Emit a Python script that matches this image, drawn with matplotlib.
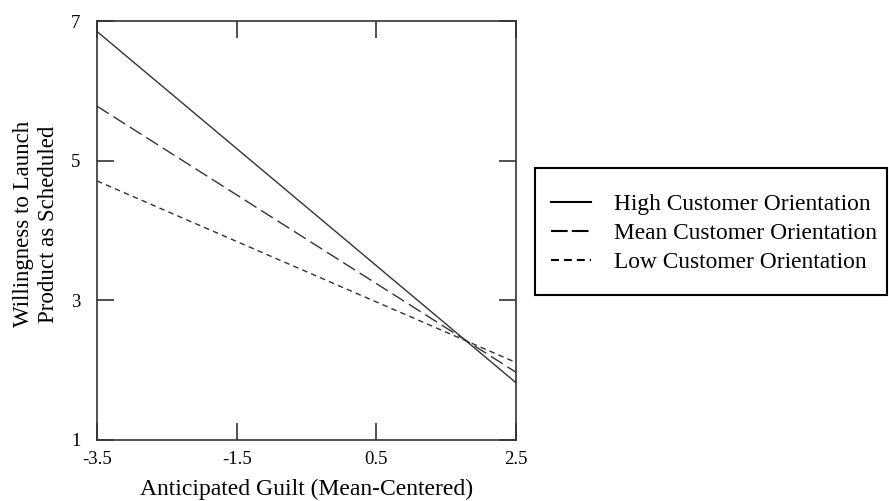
import numpy as np
import matplotlib
matplotlib.use('Agg')
import matplotlib.pyplot as plt
from matplotlib.patches import Rectangle

plt.rcParams['font.family'] = ['Liberation Serif', 'DejaVu Serif']

# guilt (mean-centered) end points and predicted willingness
guilt = [-3.5, 2.5]
high_co = [6.85, 1.82]
mean_co = [5.78, 1.97]
low_co = [4.71, 2.11]
labels = ['High Customer Orientation', 'Mean Customer Orientation', 'Low Customer Orientation']

xticks = [-3.5, -1.5, 0.5, 2.5]
yticks = [1, 3, 5, 7]

W, H = 889, 501
fig = plt.figure(figsize=(W/100, H/100), dpi=100)
ax = fig.add_axes([97/W, 1 - 440/H, 419/W, 419/H])

col = '#333333'
ax.plot(guilt, high_co, color=col, lw=1.0, ls='-', label=labels[0])
ax.plot(guilt, mean_co, color=col, lw=1.0, ls=(0, (10, 4)), label=labels[1])
ax.plot(guilt, low_co, color=col, lw=1.0, ls=(0, (4, 3)), label=labels[2])

ax.set_xlim(-3.5, 2.5)
ax.set_ylim(1, 7)
ax.set_xticks(xticks)
ax.set_xticklabels(['%g' % t for t in xticks])
ax.set_yticks(yticks)
ax.tick_params(direction='in', length=12, width=1.2, color='#333333',
               top=True, right=True, labelsize=13.5, pad=8)
ax.tick_params(axis='y', pad=12)
for s in ax.spines.values():
    s.set_linewidth(1.2)
    s.set_color('#333333')

ax.set_xlabel('Anticipated Guilt (Mean-Centered)', fontsize=17, labelpad=8)
fig.text(36/W, 1 - 224/H, 'Willingness to Launch\nProduct as Scheduled', fontsize=16.5,
         rotation=90, ha='center', va='center', multialignment='center', linespacing=1.3)

# legend: entries without frame, box drawn separately
leg = ax.legend(loc='upper left', bbox_to_anchor=(551/W, 1 - 194/H), bbox_transform=fig.transFigure,
                fontsize=16.8, frameon=False, handlelength=1.7, handletextpad=1.0,
                borderpad=0, labelspacing=0.32, borderaxespad=0)
dash_styles = [None, (0, (8, 2)), (0, (3.8, 2.4))]
for h, d in zip(leg.get_lines(), dash_styles):
    h.set_linewidth(1.5)
    h.set_color('black')
    if d is not None:
        h.set_linestyle(d)
fig.patches.append(Rectangle((535/W, 1 - 295/H), 352/W, 127/H, transform=fig.transFigure,
                             fill=False, edgecolor='black', lw=1.5))

fig.savefig('out.png', dpi=100)
